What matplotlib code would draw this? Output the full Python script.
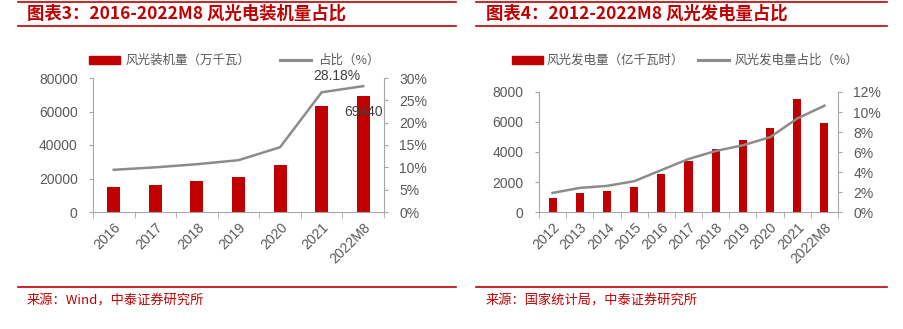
import numpy as np
import matplotlib
matplotlib.use('Agg')
import matplotlib.pyplot as plt
from matplotlib.lines import Line2D
from matplotlib.patches import Rectangle
from matplotlib.ticker import FuncFormatter

plt.rcParams['font.family'] = ['Liberation Sans', 'Noto Sans CJK SC', 'DejaVu Sans']

# chart 3 data
years3 = ['2016', '2017', '2018', '2019', '2020', '2021', '2022M8']
cap3 = [14800, 16400, 18400, 20900, 28100, 63400, 69440]
share3 = [9.45, 10.0, 10.7, 11.6, 14.5, 26.8, 28.18]

# chart 4 data
years4 = ['2012', '2013', '2014', '2015', '2016', '2017', '2018', '2019', '2020', '2021', '2022M8']
gen4 = [960, 1270, 1430, 1700, 2520, 3370, 4180, 4780, 5590, 7530, 5940]
share4 = [1.91, 2.41, 2.61, 3.08, 4.19, 5.30, 6.10, 6.67, 7.48, 9.35, 10.63]

RED = '#C00000'
GRAY_LINE = '#8C8C8C'
TXT = '#595959'
SPINE = '#A6A6A6'
CJK = ['Noto Sans CJK SC', 'DejaVu Sans']

W, H = 904, 329
fig = plt.figure(figsize=(W / 100, H / 100), dpi=100)


def fx(px):
    return px / W


def fy(py):
    return 1 - py / H


def hline(x0, x1, y):
    fig.add_artist(Line2D([fx(x0), fx(x1)], [fy(y), fy(y)], color=RED, lw=1.2,
                          transform=fig.transFigure))


def setup(ax, n, labels, ymax, ystep, y2max, y2step):
    ax.set_xlim(-0.5, n - 0.5)
    ax.set_ylim(0, ymax)
    ax.set_yticks(np.arange(0, ymax + 1, ystep))
    ax.set_xticks(range(n))
    ax.set_xticklabels(labels, rotation=45, ha='right', va='top', rotation_mode='anchor')
    ax.set_xticks(np.arange(-0.5, n, 1), minor=True)
    ax.tick_params(axis='x', which='major', length=0, pad=6, labelsize=10, labelcolor=TXT)
    ax.tick_params(axis='x', which='minor', length=4, color=SPINE, direction='out')
    ax.tick_params(axis='y', length=3, color=SPINE, labelsize=10, labelcolor=TXT, pad=8)
    ax.spines['top'].set_visible(False)
    ax.spines['right'].set_visible(False)
    for s in ['left', 'bottom']:
        ax.spines[s].set_color(SPINE)
    ax2 = ax.twinx()
    ax2.set_ylim(0, y2max)
    ax2.set_yticks(np.arange(0, y2max + 0.01, y2step))
    ax2.yaxis.set_major_formatter(FuncFormatter(lambda v, p: '%d%%' % round(v)))
    ax2.tick_params(axis='y', length=3, color=SPINE, labelsize=10, labelcolor=TXT, pad=8)
    ax2.spines['top'].set_visible(False)
    ax2.spines['left'].set_visible(False)
    ax2.spines['bottom'].set_visible(False)
    ax2.spines['right'].set_color(SPINE)
    return ax2


def legend(x_patch, x_text1, x_line, x_text2, label1, label2, y=60):
    fig.add_artist(Rectangle((fx(x_patch), fy(y + 3.5)), fx(31), 7 / H,
                             color=RED, transform=fig.transFigure))
    fig.text(fx(x_text1), fy(y), label1, family=CJK, fontsize=9, color=TXT, va='center')
    fig.add_artist(Line2D([fx(x_line), fx(x_line + 31)], [fy(y), fy(y)], color=GRAY_LINE,
                          lw=2.2, transform=fig.transFigure))
    fig.text(fx(x_text2), fy(y), label2, family=CJK, fontsize=9, color=TXT, va='center')


# ---- left chart ----
ax = fig.add_axes([fx(93), fy(212), fx(384 - 93), (212 - 78) / H])
x3 = np.arange(len(years3))
ax.bar(x3, cap3, width=0.31, color=RED, zorder=2)
ax2 = setup(ax, len(years3), years3, 80000, 20000, 30, 5)
ax2.plot(x3, share3, color=GRAY_LINE, lw=1.8)
ax2.annotate('%.2f%%' % share3[-1], (x3[-1], share3[-1]), xytext=(-26, 10),
             textcoords='offset pixels', ha='center', va='center', fontsize=10, color='#404040')
ax.annotate('%d' % cap3[-1], (x3[-1], cap3[-1]), xytext=(0, -16),
            textcoords='offset pixels', ha='center', va='center', fontsize=10, color='#404040',
            zorder=5)

# ---- right chart ----
bx = fig.add_axes([fx(539), fy(212), fx(838 - 539), (212 - 92) / H])
x4 = np.arange(len(years4))
bx.bar(x4, gen4, width=0.3, color=RED, zorder=2)
bx2 = setup(bx, len(years4), years4, 8000, 2000, 12, 2)
bx2.plot(x4, share4, color=GRAY_LINE, lw=1.8)

# ---- titles, rules, sources ----
hline(18, 456, 1.5)
hline(18, 456, 26)
hline(18, 456, 287)
hline(476, 887, 1.5)
hline(476, 887, 26)
hline(476, 887, 287)

fig.text(fx(27), fy(14), '图表3：2016-2022M8 风光电装机量占比', family=CJK, fontsize=12.5,
         fontweight='bold', color=RED, va='center')
fig.text(fx(486), fy(14), '图表4：2012-2022M8 风光发电量占比', family=CJK, fontsize=12.5,
         fontweight='bold', color=RED, va='center')

legend(89, 126, 280, 318, '风光装机量（万千瓦）', '占比（%）')
legend(512, 547, 698, 735, '风光发电量（亿千瓦时）', '风光发电量占比（%）')

fig.text(fx(27), fy(301), '来源：Wind，中泰证券研究所', family=CJK, fontsize=9.5,
         color=RED, va='center')
fig.text(fx(486), fy(301), '来源：国家统计局，中泰证券研究所', family=CJK, fontsize=9.5,
         color=RED, va='center')

fig.savefig('out.png', dpi=100)
